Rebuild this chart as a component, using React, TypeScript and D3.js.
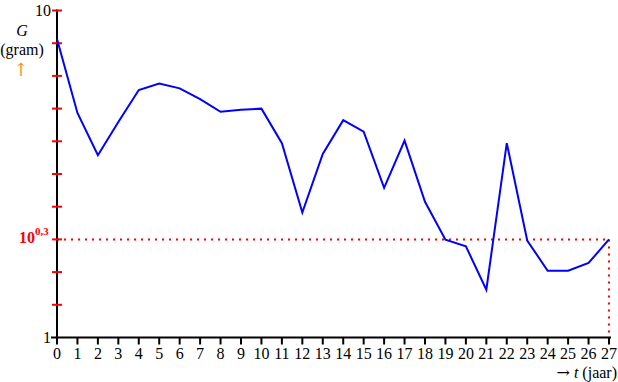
import React from "react";
import * as d3 from "d3";

const years: number[] = d3.range(0, 28);
const grams: number[] = [
  8.18, 4.86, 3.61, 4.56, 5.71, 5.98, 5.78, 5.36, 4.9, 4.97, 5.01, 3.93, 2.41, 3.64,
  4.62, 4.26, 2.87, 4.0, 2.6, 1.99, 1.9, 1.4, 3.93, 1.98, 1.6, 1.6, 1.69, 1.995,
];
const yTickValues: number[] = d3.range(0, 11).map((k) => Math.pow(10, k / 10));
const refValue = Math.pow(10, 0.3);
const refYear = 27;

export default function App() {
  const W = 618;
  const H = 382;
  const x = d3.scaleLinear().domain([0, 27]).range([57, 609]);
  const y = d3.scaleLog().domain([1, 10]).range([337.5, 10.5]);
  const line = d3
    .line<number>()
    .x((_, i) => x(years[i]))
    .y((d) => y(d));
  const serif = { fontFamily: "Liberation Serif, Times New Roman, serif" };
  const arrowFont = { fontFamily: "DejaVu Serif, serif" };

  return (
    <svg
      width={W}
      height={H}
      style={{ position: "absolute", left: 0, top: 0, background: "#fff", ...serif }}
    >
      {/* reference dotted lines */}
      <line
        x1={x(0)}
        x2={x(refYear)}
        y1={y(refValue)}
        y2={y(refValue)}
        stroke="#ff0000"
        strokeWidth={2}
        strokeDasharray="2,5"
      />
      <line
        x1={x(refYear)}
        x2={x(refYear)}
        y1={y(refValue)}
        y2={y(1)}
        stroke="#ff0000"
        strokeWidth={2}
        strokeDasharray="2,5"
      />
      {/* y axis */}
      <line x1={x(0)} x2={x(0)} y1={y(10) - 1} y2={y(1)} stroke="#000" strokeWidth={2} />
      {yTickValues.slice(1).map((v, i) => (
        <line key={i} x1={x(0) - 5} x2={x(0) + 5} y1={y(v)} y2={y(v)} stroke="#ff0000" strokeWidth={2} />
      ))}
      <line x1={x(0) - 6} x2={x(0)} y1={y(1)} y2={y(1)} stroke="#000" strokeWidth={2} />
      {/* x axis */}
      <line x1={x(0) - 1} x2={x(27) + 2} y1={y(1)} y2={y(1)} stroke="#000" strokeWidth={2} />
      {years.map((t) => (
        <g key={t}>
          <line x1={x(t)} x2={x(t)} y1={y(1)} y2={y(1) + 7} stroke="#000" strokeWidth={2} />
          <text x={x(t)} y={359} fontSize={16} textAnchor="middle" fill="#000" style={serif}>
            {t}
          </text>
        </g>
      ))}
      {/* y labels */}
      <text x={51} y={16} fontSize={16} textAnchor="end" fill="#000" style={serif}>
        10
      </text>
      <text x={51} y={343} fontSize={16} textAnchor="end" fill="#000" style={serif}>
        1
      </text>
      <text x={19} y={243} fontSize={16} fontWeight="bold" fill="#ff0000" style={serif}>
        10
        <tspan dy={-8} fontSize={11}>
          0,3
        </tspan>
      </text>
      {/* axis titles */}
      <text x={22} y={36} fontSize={16} fontStyle="italic" textAnchor="middle" fill="#000" style={serif}>
        G
      </text>
      <text x={22} y={55} fontSize={16} textAnchor="middle" fill="#000" style={serif}>
        (gram)
      </text>
      <text x={21} y={76} fontSize={18} textAnchor="middle" fill="#ff8c1a" style={arrowFont}>
        ↑
      </text>
      <text x={617} y={378} fontSize={16} textAnchor="end" fill="#000" style={serif}>
        <tspan style={arrowFont}>{"→"}</tspan>
        {" "}
        <tspan fontStyle="italic">t</tspan>
        {" (jaar)"}
      </text>
      {/* data line */}
      <path d={line(grams) || ""} fill="none" stroke="#0000ff" strokeWidth={2} />
    </svg>
  );
}
